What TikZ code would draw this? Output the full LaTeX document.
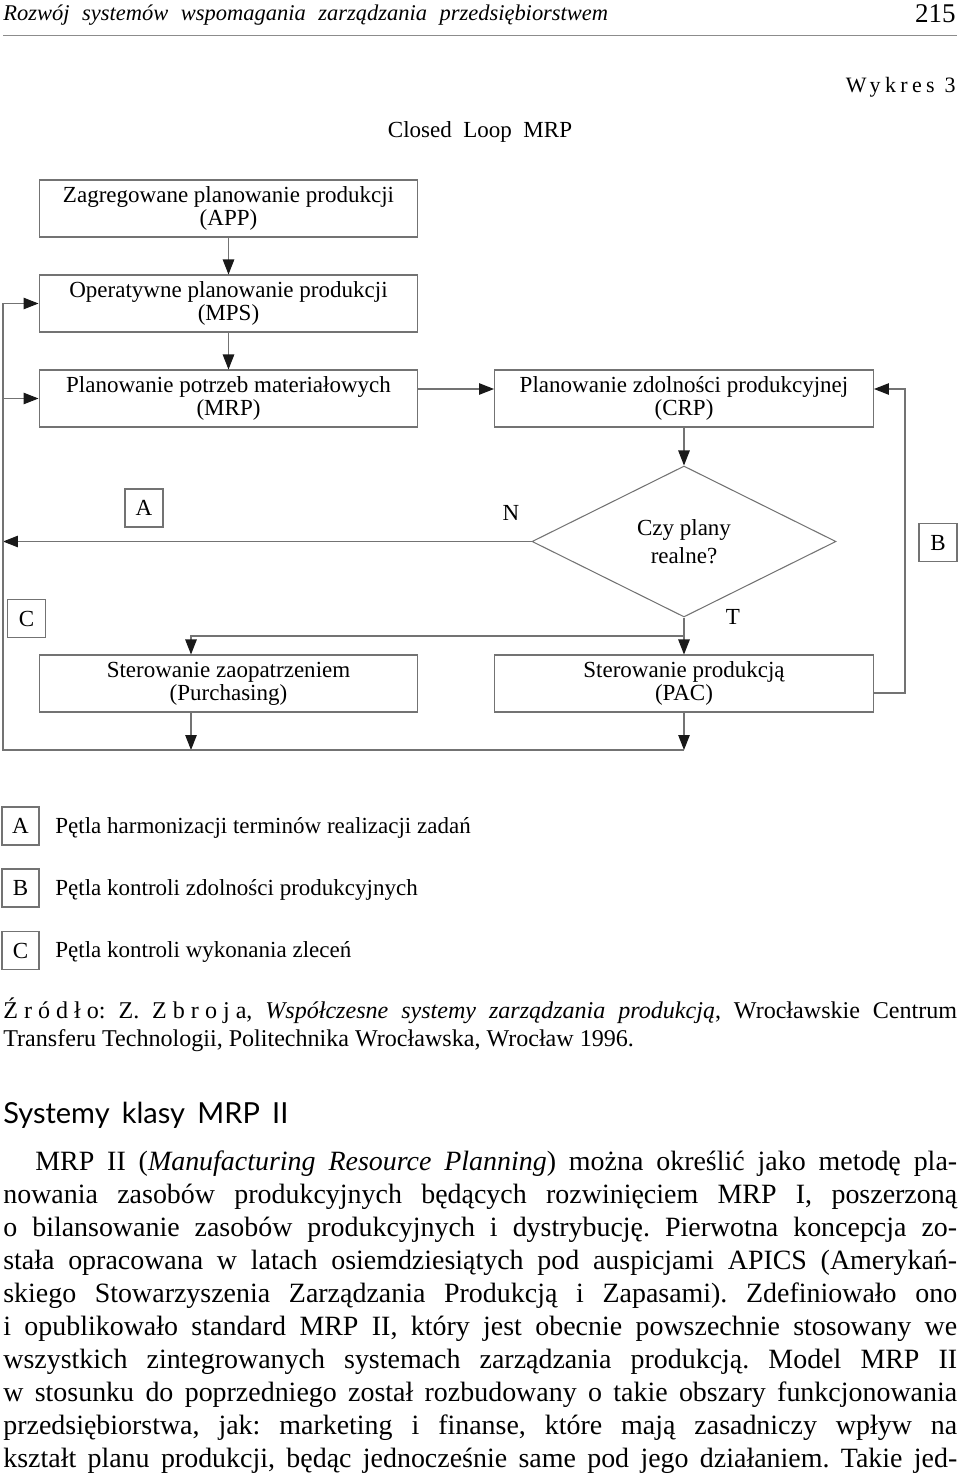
\documentclass[tikz,border=0pt]{standalone}
\usepackage{fontspec}
\setmainfont{Liberation Serif}
\newfontfamily\headsans{Lato}
\usetikzlibrary{arrows.meta,shapes.geometric}

\newcommand{\diagfont}{\fontsize{13.1pt}{13pt}\selectfont}
\newcommand{\bodyfont}{\fontsize{15.9pt}{18.8pt}\selectfont}
\newcommand{\srcfont}{\fontsize{13.7pt}{16pt}\selectfont}
\frenchspacing

\begin{document}
\begin{tikzpicture}[x=0.02cm,y=-0.02cm,>={Triangle[length=0.3cm,width=0.23cm,color=black!90]},
    box/.style={rectangle,draw=black!55,line width=0.6pt,minimum width=7.58cm,minimum height=1.14cm,inner sep=0pt,align=center,font=\diagfont},
    tag/.style={rectangle,draw=black!55,line width=0.6pt,minimum width=0.76cm,minimum height=0.76cm,inner sep=0pt,font=\diagfont},
    conn/.style={draw=black!55,line width=0.6pt},
    txt/.style={inner sep=0pt}]
    \useasboundingbox (0,0) rectangle (960,1480);
    % running head
    \node[txt,anchor=base west] (runhead) at (3,21) {\fontsize{12.8pt}{14pt}\selectfont\itshape\makebox[12.1cm][s]{Rozwój systemów wspomagania zarządzania przedsiębiorstwem}};
    \node[txt,anchor=base east] (pagenum) at (956,23) {\fontsize{15.4pt}{16pt}\selectfont 215};
    \draw[black!45,line width=0.5pt] (3,35) -- (957,35);
    \node[txt,anchor=base east] (wykres) at (956,93) {\fontsize{12.5pt}{14pt}\selectfont\addfontfeature{LetterSpace=20}Wykres 3};
    \node[txt,anchor=base] (title) at (480,138) {\fontsize{13.1pt}{14pt}\selectfont Closed\ \ Loop\ \ MRP};
    % boxes
    \node[box] (app) at (228.5,208.5) {Zagregowane planowanie produkcji\\(APP)};
    \node[box] (mps) at (228.5,303.5) {Operatywne planowanie produkcji\\(MPS)};
    \node[box] (mrp) at (228.5,398.5) {Planowanie potrzeb materiałowych\\(MRP)};
    \node[box] (crp) at (684,398.5) {Planowanie zdolności produkcyjnej\\(CRP)};
    \node[diamond,draw=black!55,line width=0.6pt,minimum width=6.08cm,minimum height=3.02cm,inner sep=0pt,align=center,font=\diagfont] (plany) at (684,541.5) {Czy plany\\[3pt]realne?};
    \node[box] (pur) at (228.5,683.5) {Sterowanie zaopatrzeniem\\(Purchasing)};
    \node[box] (pac) at (684,683.5) {Sterowanie produkcją\\(PAC)};
    \node[tag] (tagA) at (144,508) {A};
    \node[tag] (tagB) at (938,542.5) {B};
    \node[tag] (tagC) at (26.5,618.5) {C};
    \node[txt,font=\diagfont] (labN) at (511,513) {N};
    \node[txt,font=\diagfont] (labT) at (733,617) {T};
    % connectors
    \draw[->,conn] (app) -- (mps);
    \draw[->,conn] (mps) -- (mrp);
    \draw[->,conn] ([yshift=0.19cm]mrp.east) -- ([yshift=0.19cm]crp.west);
    \draw[->,conn] (crp) -- (plany);
    \draw[->,conn] (plany) -- (pac);
    \coordinate (tjoin) at (684,636);
    \draw[->,conn] (tjoin) -| ([xshift=-0.75cm]pur.north);
    \coordinate (nend) at (3,541.5);
    \draw[->,conn] (plany.west) -- (nend);
    \coordinate (cbot) at (3,750);
    \draw[->,conn] (pac.south) -- (pac.south |- cbot);
    \draw[->,conn] ([xshift=-0.75cm]pur.south) -- ([xshift=-0.75cm]pur.south |- cbot);
    \draw[->,conn] (pac.south |- cbot) -- (cbot) |- (mps.west);
    \draw[->,conn] (cbot |- mrp.west) -- (mrp.west);
    \draw[->,conn] ([yshift=-0.19cm]pac.east) -- ++(0.62cm,0) |- ([yshift=0.19cm]crp.east);
    % legend
    \node[tag,minimum width=0.74cm] (legA) at (20.5,826) {A};
    \node[tag,minimum width=0.74cm] (legB) at (20.5,888) {B};
    \node[tag,minimum width=0.74cm] (legC) at (20.5,950.5) {C};
    \node[txt,anchor=base west,font=\diagfont] (legAtxt) at (55,833) {Pętla harmonizacji terminów realizacji zadań};
    \node[txt,anchor=base west,font=\diagfont] (legBtxt) at (55,895) {Pętla kontroli zdolności produkcyjnych};
    \node[txt,anchor=base west,font=\diagfont] (legCtxt) at (55,957) {Pętla kontroli wykonania zleceń};
    % source
    \node[txt,anchor=base west] (src1) at (3,1018) {\srcfont\makebox[19.08cm][s]{{\addfontfeature{LetterSpace=25}Źródło}: Z. {\addfontfeature{LetterSpace=25}Zbroja}, \textit{Współczesne systemy zarządzania produkcją}, Wrocławskie Centrum}};
    \node[txt,anchor=base west] (src2) at (3,1046) {\srcfont Transferu Technologii, Politechnika Wrocławska, Wrocław 1996.};
    % section text
    \node[txt,anchor=base west] (sect) at (3,1123) {\headsans\fontsize{16.5pt}{18pt}\selectfont\makebox[5.7cm][s]{Systemy klasy MRP II}};
    \node[txt,anchor=base west] (body1) at (35,1170) {\bodyfont\makebox[18.44cm][s]{MRP II (\textit{Manufacturing Resource Planning}) można określić jako metodę pla-}};
    \node[txt,anchor=base west] (body2) at (3,1203) {\bodyfont\makebox[19.08cm][s]{nowania zasobów produkcyjnych będących rozwinięciem MRP I, poszerzoną}};
    \node[txt,anchor=base west] (body3) at (3,1236) {\bodyfont\makebox[19.08cm][s]{o bilansowanie zasobów produkcyjnych i dystrybucję. Pierwotna koncepcja zo-}};
    \node[txt,anchor=base west] (body4) at (3,1269) {\bodyfont\makebox[19.08cm][s]{stała opracowana w latach osiemdziesiątych pod auspicjami APICS (Amerykań-}};
    \node[txt,anchor=base west] (body5) at (3,1302) {\bodyfont\makebox[19.08cm][s]{skiego Stowarzyszenia Zarządzania Produkcją i Zapasami). Zdefiniowało ono}};
    \node[txt,anchor=base west] (body6) at (3,1335) {\bodyfont\makebox[19.08cm][s]{i opublikowało standard MRP II, który jest obecnie powszechnie stosowany we}};
    \node[txt,anchor=base west] (body7) at (3,1368) {\bodyfont\makebox[19.08cm][s]{wszystkich zintegrowanych systemach zarządzania produkcją. Model MRP II}};
    \node[txt,anchor=base west] (body8) at (3,1401) {\bodyfont\makebox[19.08cm][s]{w stosunku do poprzedniego został rozbudowany o takie obszary funkcjonowania}};
    \node[txt,anchor=base west] (body9) at (3,1434) {\bodyfont\makebox[19.08cm][s]{przedsiębiorstwa, jak: marketing i finanse, które mają zasadniczy wpływ na}};
    \node[txt,anchor=base west] (body10) at (3,1467) {\bodyfont\makebox[19.08cm][s]{kształt planu produkcji, będąc jednocześnie same pod jego działaniem. Takie jed-}};
\end{tikzpicture}
\end{document}
